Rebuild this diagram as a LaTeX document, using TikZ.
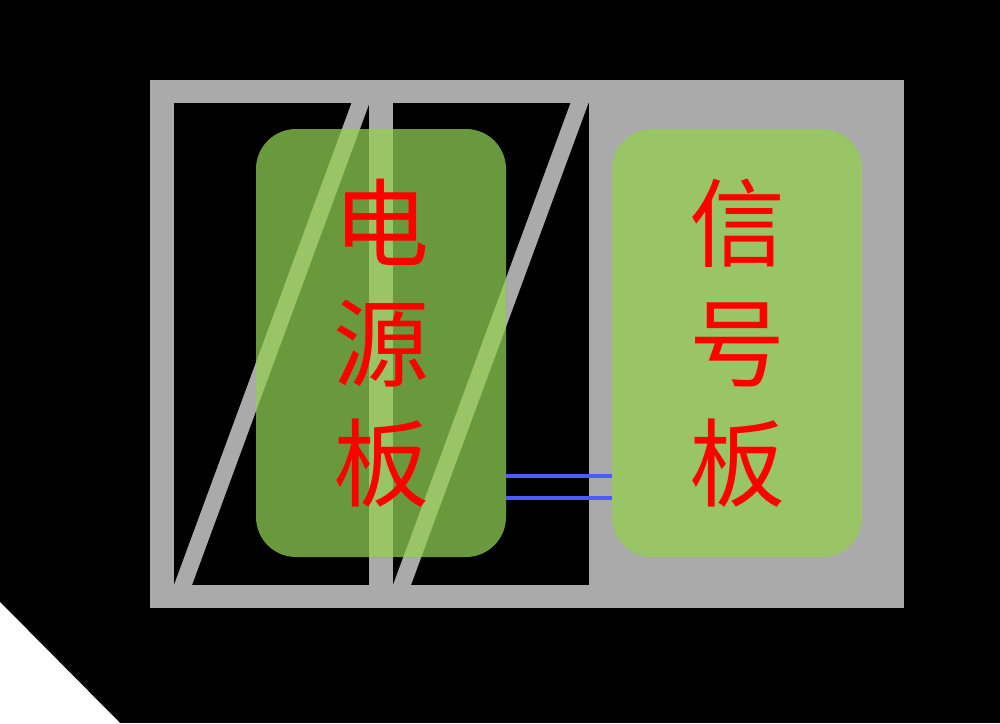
\documentclass[tikz,border=0pt]{standalone}
\usepackage{fontspec}
\newfontfamily\cjk{Noto Sans CJK SC}
\definecolor{framegrey}{HTML}{AAAAAA}
\definecolor{darkboard}{HTML}{6A983C}
\definecolor{lightboard}{HTML}{99C566}
\definecolor{wireblue}{HTML}{4A5CFF}

\begin{document}
\begin{tikzpicture}[x=1pt, y=-1pt,
		board_style/.style={rounded corners=40pt, minimum width=250pt, minimum height=428pt, inner sep=0pt},
		label_style/.style={text=red, font=\cjk\fontsize{96}{120}\selectfont, align=center, inner sep=0pt},
		wire_style/.style={draw=wireblue, line width=3.5pt}]
		
		% background
		\fill[black] (0,0) rectangle (1000,723);
		\fill[white] (0,602) -- (120,723) -- (0,723) -- cycle;
		
		% frame with two windows
		\fill[framegrey] (150,80) rectangle (904,608);
		\fill[black] (174,103) rectangle (369,585);
		\fill[black] (393,103) rectangle (589,585);
		\foreach \x in {174,393}
			\fill[framegrey] (\x,585) -- ++(18,0) -- ++(177.5,-482) -- ++(-18,0) -- cycle;
		
		% boards
		\node[board_style, fill=darkboard] (power) at (381,343) {};
		\begin{scope}
			\clip[rounded corners=40pt] (power.south west) rectangle (power.north east);
			\fill[lightboard] (369,103) rectangle (393,585);
			\foreach \x in {174,393}
				\fill[lightboard] (\x,585) -- ++(18,0) -- ++(177.5,-482) -- ++(-18,0) -- cycle;
		\end{scope}
		\node[label_style] (powertext) at (power) {电\\源\\板};
		
		\node[board_style, fill=lightboard] (signal) at (737,343) {};
		\node[label_style] (signaltext) at (signal) {信\\号\\板};
		
		\draw[wire_style] ([yshift=-133pt]power.east) -- ([yshift=-133pt]signal.west);
		\draw[wire_style] ([yshift=-155pt]power.east) -- ([yshift=-155pt]signal.west);
		
\end{tikzpicture}
\end{document}
